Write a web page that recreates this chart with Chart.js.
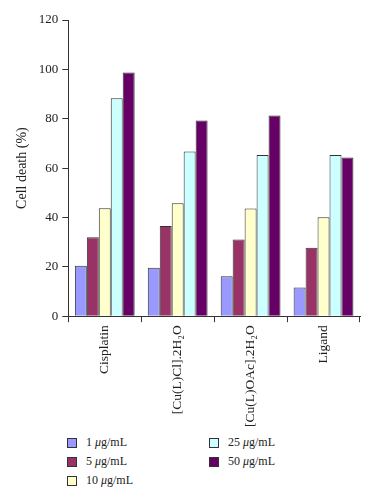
<!DOCTYPE html>
<html>
<head>
<meta charset="utf-8">
<script src="https://cdn.jsdelivr.net/npm/chart.js@4"></script>
<style>
  body { margin: 0; background: #fff; }
  #wrap { position: relative; width: 374px; height: 432px; }
  #legend {
    display: grid;
    grid-auto-flow: column;
    grid-template-rows: repeat(3, 19px);
    grid-template-columns: 142px 142px;
    margin-left: 67px;
    margin-top: 1px;
    font: 12px "Liberation Serif", serif;
    color: #222;
  }
  #legend div { display: flex; align-items: center; }
  #legend span.box {
    width: 8px; height: 8px; border: 1px solid #333; margin-right: 9px;
  }
</style>
</head>
<body>
<div id="wrap"><canvas id="myChart"></canvas></div>
<div id="legend"></div>
<script>
const categories = ['Cisplatin', '[Cu(L)Cl].2H\u2082O', '[Cu(L)OAc].2H\u2082O', 'Ligand'];
const doses = ['1 \u03bcg/mL', '5 \u03bcg/mL', '10 \u03bcg/mL', '25 \u03bcg/mL', '50 \u03bcg/mL'];
const dose1 = [20.4, 19.6, 16.2, 11.6];
const dose5 = [32, 36.5, 31.1, 27.7];
const dose10 = [43.7, 45.8, 43.6, 40.1];
const dose25 = [88.3, 66.7, 65.3, 65.3];
const dose50 = [98.7, 79.3, 81.3, 64.3];
const yTicks = [0, 20, 40, 60, 80, 100, 120];

const colors = ['#9999ff', '#993366', '#ffffcc', '#ccffff', '#660066'];
const series = [dose1, dose5, dose10, dose25, dose50];

let ctx = document.getElementById('myChart').getContext('2d');
let myChart = new Chart(ctx, {
  type: 'bar',
  data: {
    labels: categories,
    datasets: series.map((d, i) => ({
      label: doses[i],
      data: d,
      backgroundColor: colors[i],
      borderColor: '#333',
      borderWidth: 1,
      categoryPercentage: 0.82,
      barPercentage: 1
    }))
  },
  options: {
    responsive: true,
    maintainAspectRatio: false,
    animation: false,
    layout: { padding: { top: 20, right: 14, left: 10, bottom: 2 } },
    plugins: {
      legend: { display: false },
      tooltip: { enabled: false }
    },
    scales: {
      x: {
        grid: { drawOnChartArea: false, color: '#333', tickLength: 6 },
        border: { color: '#333' },
        ticks: {
          minRotation: 90, maxRotation: 90,
          color: '#222',
          font: { family: 'Liberation Serif', size: 13.5 }
        }
      },
      y: {
        min: 0, max: 120,
        afterBuildTicks: axis => { axis.ticks = yTicks.map(v => ({ value: v })); },
        grid: { drawOnChartArea: false, color: '#333', tickLength: 6 },
        border: { color: '#333' },
        title: {
          display: true, text: 'Cell death (%)', color: '#222',
          font: { family: 'Liberation Serif', size: 14 }
        },
        ticks: {
          color: '#222', padding: 4,
          font: { family: 'Liberation Serif', size: 13 }
        }
      }
    }
  }
});

let legend = document.getElementById('legend');
myChart.data.datasets.forEach(ds => {
  let item = document.createElement('div');
  item.innerHTML = '<span class="box" style="background:' + ds.backgroundColor + '"></span>' +
    '<span>' + ds.label.replace('\u03bc', '<i>\u03bc</i>') + '</span>';
  legend.appendChild(item);
});
</script>
</body>
</html>
